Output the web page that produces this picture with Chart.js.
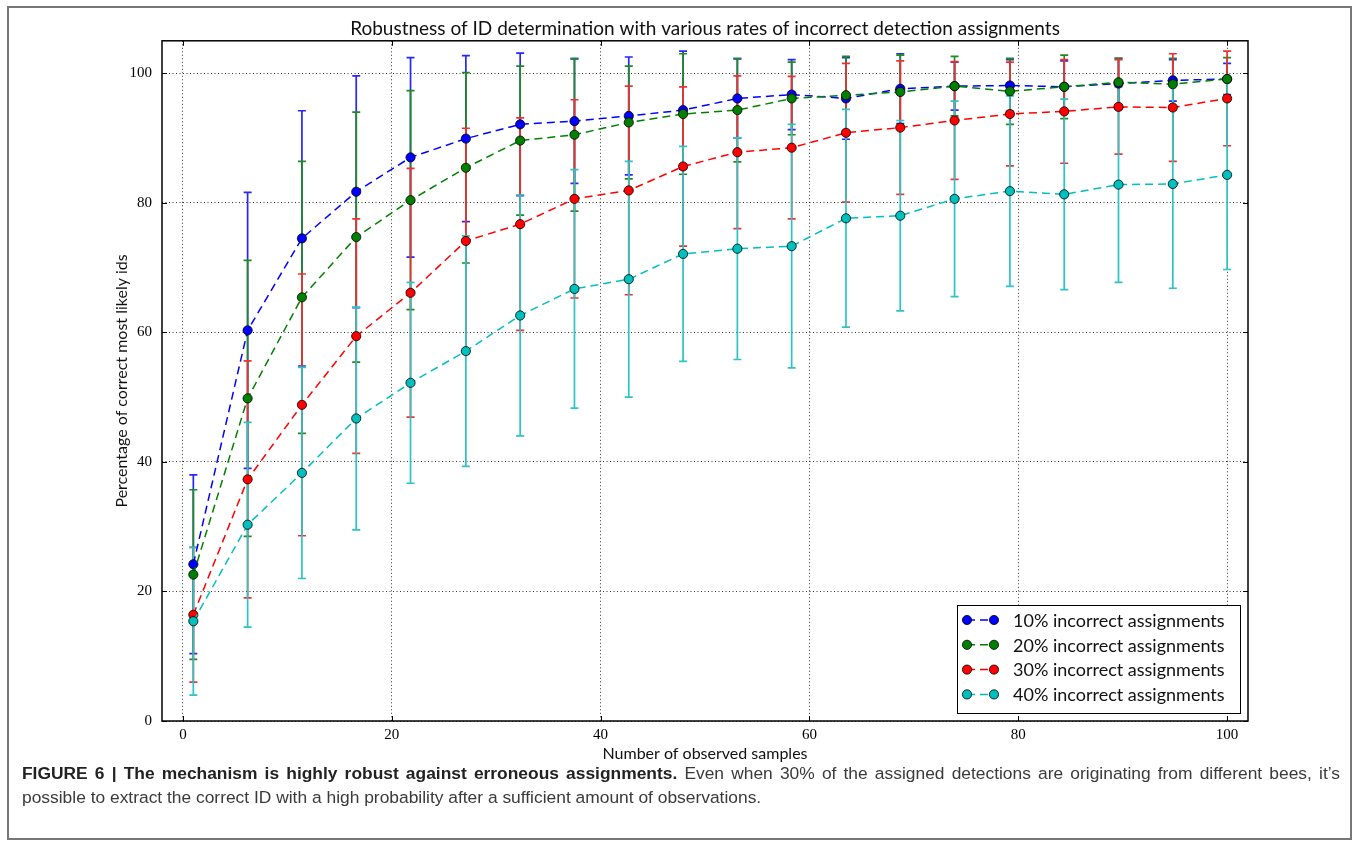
<!DOCTYPE html>
<html>
<head>
<meta charset="utf-8">
<script src="https://cdn.jsdelivr.net/npm/chart.js@4.4.1/dist/chart.umd.min.js"></script>
<style>
html, body { margin: 0; padding: 0; background: #fff; }
#frame { position: absolute; left: 7px; top: 6px; width: 1341px; height: 830px; border: 2px solid #777; }
#chart { position: absolute; left: 0; top: 0; }
.cap { position: absolute; left: 22px; width: 1318px; font-family: "Liberation Sans", Arial, sans-serif; font-size: 17.4px; line-height: 24px; color: #3a3a3a; }
#cap1 { top: 761px; text-align: justify; text-align-last: justify; white-space: nowrap; }
#cap2 { top: 785px; }
#cap1 b { color: #222; }
</style>
</head>
<body>
<div id="frame"></div>
<canvas id="chart" width="1357" height="770"></canvas>
<div class="cap" id="cap1"><b>FIGURE 6 | The mechanism is highly robust against erroneous assignments.</b> Even when 30% of the assigned detections are originating from different bees, it’s</div>
<div class="cap" id="cap2">possible to extract the correct ID with a high probability after a sufficient amount of observations.</div>
<script>
// number of observed samples (x positions of the points)
const samples = [1, 6.2, 11.4, 16.6, 21.8, 27.1, 32.3, 37.5, 42.7, 47.9, 53.1, 58.3, 63.5, 68.7, 73.9, 79.2, 84.4, 89.6, 94.8, 100];

// mean percentage of correct ids and the std (error bars) per rate
const mean10 = [24.2, 60.3, 74.5, 81.7, 87.0, 89.9, 92.1, 92.6, 93.4, 94.3, 96.1, 96.7, 96.1, 97.6, 98.0, 98.1, 97.9, 98.4, 98.9, 99.1];
const err10  = [13.8, 21.3, 19.7, 17.9, 15.4, 12.8, 11.0, 9.6, 9.1, 9.1, 6.1, 5.4, 6.3, 5.4, 3.7, 4.0, 4.0, 3.9, 3.2, 2.4];
const mean20 = [22.6, 49.8, 65.4, 74.7, 80.4, 85.4, 89.6, 90.5, 92.4, 93.7, 94.3, 96.1, 96.6, 97.1, 98.0, 97.2, 97.9, 98.6, 98.3, 99.1];
const err20  = [13.1, 21.3, 21.0, 19.3, 16.9, 14.7, 11.5, 11.8, 8.7, 9.3, 8.0, 5.6, 6.0, 5.7, 4.6, 5.1, 4.9, 3.7, 4.0, 3.3];
const mean30 = [16.4, 37.3, 48.8, 59.4, 66.1, 74.1, 76.7, 80.6, 81.9, 85.6, 87.8, 88.5, 90.8, 91.6, 92.7, 93.7, 94.1, 94.8, 94.7, 96.1];
const err30  = [10.4, 18.3, 20.2, 18.1, 19.2, 17.4, 16.4, 15.3, 16.1, 12.3, 11.8, 11.0, 10.7, 10.3, 9.1, 8.0, 8.0, 7.3, 8.3, 7.3];
const mean40 = [15.4, 30.3, 38.3, 46.7, 52.2, 57.1, 62.6, 66.7, 68.2, 72.1, 72.9, 73.3, 77.6, 78.0, 80.6, 81.8, 81.3, 82.8, 82.9, 84.3];
const err40  = [11.4, 15.8, 16.3, 17.2, 15.5, 17.8, 18.6, 18.4, 18.2, 16.6, 17.1, 18.8, 16.8, 14.7, 15.1, 14.7, 14.7, 15.1, 16.1, 14.6];

const labels = ['10% incorrect assignments', '20% incorrect assignments', '30% incorrect assignments', '40% incorrect assignments'];
const colors = ['#0000ff', '#008000', '#ff0000', '#00bfbf'];
const barColors = ['#2626ff', '#1f8a1f', '#f03030', '#2cc4c4'];
const xTicks = [0, 20, 40, 60, 80, 100];
const yTicks = [0, 20, 40, 60, 80, 100];

const means = [mean10, mean20, mean30, mean40];
const errs = [err10, err20, err30, err40];

const datasets = means.map((m, i) => ({
  label: labels[i],
  data: samples.map((s, j) => ({x: s, y: m[j]})),
  errors: errs[i],
  barColor: barColors[i],
  borderColor: colors[i],
  backgroundColor: colors[i],
  borderWidth: 1.5,
  borderDash: [8, 5],
  showLine: true,
  tension: 0,
  pointRadius: 4.6,
  pointBackgroundColor: colors[i],
  pointBorderColor: '#000',
  pointBorderWidth: 0.8,
  order: 3 - i   // later series drawn on top, like matplotlib
}));

// error bars go under all lines and markers
const errorBars = {
  id: 'errorBars',
  beforeDatasetsDraw(chart) {
    const {ctx, scales: {x, y}} = chart;
    ctx.save();
    ctx.lineWidth = 1.7;
    chart.data.datasets.forEach(ds => {
      ctx.strokeStyle = ds.barColor;
      ds.data.forEach((p, j) => {
        const px = x.getPixelForValue(p.x);
        const top = y.getPixelForValue(p.y + ds.errors[j]);
        const bot = y.getPixelForValue(p.y - ds.errors[j]);
        ctx.beginPath();
        ctx.moveTo(px, top); ctx.lineTo(px, bot);
        ctx.moveTo(px - 4, top); ctx.lineTo(px + 4, top);
        ctx.moveTo(px - 4, bot); ctx.lineTo(px + 4, bot);
        ctx.stroke();
      });
    });
    ctx.restore();
  }
};

// box around the plot, inward ticks, legend in lower right
const frameAndLegend = {
  id: 'frameAndLegend',
  afterDraw(chart) {
    const {ctx, chartArea: a, scales: {x, y}} = chart;
    ctx.save();
    ctx.strokeStyle = '#000';
    ctx.lineWidth = 1;
    ctx.beginPath();
    xTicks.forEach(v => {
      const px = Math.round(x.getPixelForValue(v)) + 0.5;
      ctx.moveTo(px, a.bottom); ctx.lineTo(px, a.bottom - 5);
      ctx.moveTo(px, a.top); ctx.lineTo(px, a.top + 5);
    });
    yTicks.forEach(v => {
      const py = Math.round(y.getPixelForValue(v)) + 0.5;
      ctx.moveTo(a.left, py); ctx.lineTo(a.left + 5, py);
      ctx.moveTo(a.right, py); ctx.lineTo(a.right - 5, py);
    });
    ctx.stroke();
    ctx.lineWidth = 1.5;
    ctx.strokeRect(a.left, a.top, a.right - a.left, a.bottom - a.top);

    // legend
    const bw = 283, bh = 108;
    const bx = a.right - 8 - bw, by = a.bottom - 8 - bh;
    ctx.fillStyle = '#fff';
    ctx.fillRect(bx, by, bw, bh);
    ctx.lineWidth = 1;
    ctx.strokeRect(bx + 0.5, by + 0.5, bw, bh);
    ctx.font = '18px Lato';
    ctx.textBaseline = 'middle';
    chart.data.datasets.forEach((ds, i) => {
      const ry = by + 15 + i * 24.8;
      const x1 = bx + 10, x2 = bx + 37;
      ctx.strokeStyle = ds.borderColor;
      ctx.lineWidth = 1.5;
      ctx.setLineDash([8, 5]);
      ctx.beginPath(); ctx.moveTo(x1, ry); ctx.lineTo(x2, ry); ctx.stroke();
      ctx.setLineDash([]);
      [x1, x2].forEach(cx => {
        ctx.beginPath();
        ctx.arc(cx, ry, 4.6, 0, Math.PI * 2);
        ctx.fillStyle = ds.borderColor;
        ctx.fill();
        ctx.lineWidth = 0.8;
        ctx.strokeStyle = '#000';
        ctx.stroke();
      });
      ctx.fillStyle = '#111';
      ctx.fillText(ds.label, bx + 56, ry + 1);
    });
    ctx.restore();
  }
};

new Chart(document.getElementById('chart'), {
  type: 'scatter',
  data: { datasets: datasets },
  plugins: [errorBars, frameAndLegend],
  options: {
    responsive: false,
    animation: false,
    layout: { padding: { left: 100, right: 109, top: 0, bottom: 0 } },
    plugins: {
      legend: { display: false },
      tooltip: { enabled: false },
      title: {
        display: true,
        fullSize: false,
        text: 'Robustness of ID determination with various rates of incorrect detection assignments',
        color: '#111',
        font: { family: 'Lato', size: 19, weight: 'normal' },
        padding: { top: 17, bottom: 1 }
      }
    },
    scales: {
      x: {
        type: 'linear',
        min: -2,
        max: 102,
        afterBuildTicks: s => { s.ticks = xTicks.map(v => ({value: v})); },
        afterFit: s => { s.height = 49; },
        ticks: { color: '#000', font: { family: 'Liberation Serif', size: 15 }, padding: 5, maxRotation: 0 },
        grid: { color: '#000', lineWidth: 0.8, drawTicks: false },
        border: { display: false, dash: [1, 2.5] },
        title: { display: true, text: 'Number of observed samples', color: '#111', font: { family: 'Lato', size: 16 }, padding: { top: 0, bottom: 7 } }
      },
      y: {
        type: 'linear',
        min: 0,
        max: 105,
        afterBuildTicks: s => { s.ticks = yTicks.map(v => ({value: v})); },
        afterFit: s => { s.width = 62; },
        ticks: { color: '#000', font: { family: 'Liberation Serif', size: 15 }, padding: 10 },
        grid: { color: '#000', lineWidth: 0.8, drawTicks: false },
        border: { display: false, dash: [1, 2.5] },
        title: { display: true, text: 'Percentage of correct most likely ids', color: '#111', font: { family: 'Lato', size: 16 }, padding: { top: 12, bottom: 0 } }
      }
    }
  }
});
</script>
</body>
</html>
